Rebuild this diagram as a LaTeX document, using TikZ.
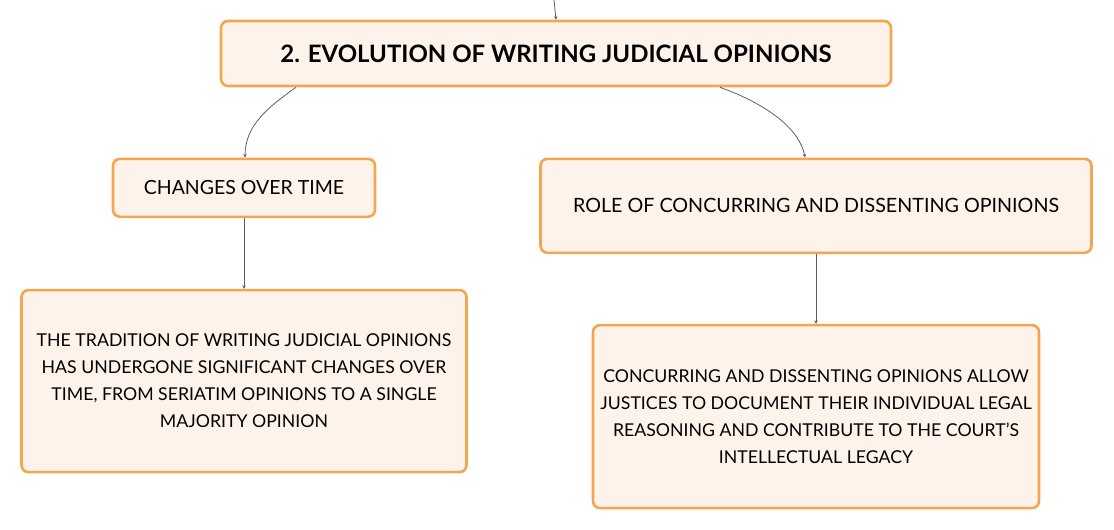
\documentclass[tikz,border=0pt]{standalone}
\usepackage{fontspec}
\setmainfont{Lato}
\usepackage{tikz}
\usetikzlibrary{arrows.meta,trees}

\definecolor{boxline}{HTML}{F4A64E}
\definecolor{boxfill}{HTML}{FDF3EA}
\definecolor{linkgray}{HTML}{606060}

\begin{document}
\begin{tikzpicture}[x=1pt,y=1pt]
            \useasboundingbox (0,0) rectangle (1114,-530);
            \tikzstyle{box}=[draw=boxline,fill=boxfill,line width=2.6pt,rounded corners=7pt,align=center,inner sep=0pt]
            \tikzstyle{every child node}=[anchor=north]
            \tikzstyle{edge from parent}=[draw=linkgray,line width=0.8pt,-{Stealth[length=3.5pt,width=3.5pt]}]
            \tikzstyle{level 1}=[grow via three points={one child at (0,-104) and two children at (-312,-104) and (260,-104)}]
            \tikzstyle{level 2}=[grow=down,edge from parent path={(\tikzparentnode.south) -- (\tikzchildnode.north)}]
            \coordinate (top) at (554,0);
            \node[box,minimum width=670pt,minimum height=65pt,font=\fontsize{24}{28}\selectfont\bfseries] (root) at (556,-53.5) {2. EVOLUTION OF WRITING JUDICIAL OPINIONS}
                child[edge from parent path={([xshift=-260pt]\tikzparentnode.south) .. controls +(-28pt,-20pt) and +(0pt,32pt) .. ([xshift=1pt]\tikzchildnode.north)}]
                    {node[box,minimum width=262pt,minimum height=58pt,font=\fontsize{19.5}{23}\selectfont] (changes) {CHANGES OVER TIME}
                    child[level distance=101pt] {node[box,minimum width=445pt,minimum height=182pt,font=\fontsize{17.7}{27}\selectfont] (changestext)
                        {THE TRADITION OF WRITING JUDICIAL OPINIONS\\HAS UNDERGONE SIGNIFICANT CHANGES OVER\\TIME, FROM SERIATIM OPINIONS TO A SINGLE\\MAJORITY OPINION}}}
                child[edge from parent path={([xshift=164pt]\tikzparentnode.south) .. controls +(50pt,-18pt) and +(-5pt,27pt) .. ([xshift=-11pt]\tikzchildnode.north)}]
                    {node[box,minimum width=551pt,minimum height=94pt,font=\fontsize{19.7}{23}\selectfont] (role) {ROLE OF CONCURRING AND DISSENTING OPINIONS}
                    child[level distance=118pt] {node[box,minimum width=446pt,minimum height=183pt,font=\fontsize{17.7}{27}\selectfont] (roletext)
                        {CONCURRING AND DISSENTING OPINIONS ALLOW\\JUSTICES TO DOCUMENT THEIR INDIVIDUAL LEGAL\\REASONING AND CONTRIBUTE TO THE COURT'S\\INTELLECTUAL LEGACY}}};
            \draw[draw=linkgray,line width=0.8pt,-{Stealth[length=3.5pt,width=3.5pt]}] (top) -- (root.north);
        \end{tikzpicture}
\end{document}
